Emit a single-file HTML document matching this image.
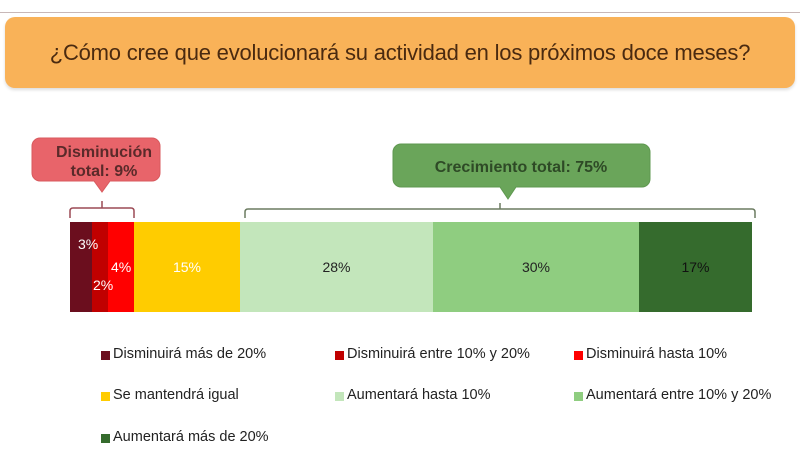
<!DOCTYPE html>
<html><head><meta charset="utf-8"><style>
body{margin:0;width:800px;height:453px;background:#fff;position:relative;overflow:hidden;font-family:"Liberation Sans",sans-serif}
.a{position:absolute}
.title{left:5px;top:17px;width:790px;height:71px;background:#f9b258;border-radius:10px;box-shadow:0 2px 3px #ddd;text-align:center;line-height:71px;font-size:22px;color:#4a2a10;letter-spacing:-0.2px}
.seg{position:absolute;top:222px;height:90px;font-size:14px;text-align:center;line-height:90px}
.lg{position:absolute;font-size:14.5px;color:#222;white-space:nowrap}
.lg i{position:absolute;left:0;top:5px;width:9px;height:9px}
.lg span{position:absolute;left:12px;top:0}
</style></head><body>
<div class="a" style="left:0;top:12px;width:800px;height:1px;background:#c8b8b8"></div>
<div class="a title">¿Cómo cree que evolucionará su actividad en los próximos doce meses?</div>

<svg class="a" style="left:0;top:0" width="800" height="453">
<path d="M40 138 H152 a8 8 0 0 1 8 8 V173 a8 8 0 0 1 -8 8 H110 L102 192 L94 181 H40 a8 8 0 0 1 -8 -8 V146 a8 8 0 0 1 8 -8Z" fill="#e8646a" stroke="#d85a5e"/>
<path d="M401 144 H642 a8 8 0 0 1 8 8 V179 a8 8 0 0 1 -8 8 H516 L508 199 L500 187 H401 a8 8 0 0 1 -8 -8 V152 a8 8 0 0 1 8 -8Z" fill="#6aa55a" stroke="#5f9850"/>
<path d="M70 218 V211 Q70 208 73 208 H131 Q134 208 134 211 V218 M102 208 V201" fill="none" stroke="#9c4a55" stroke-width="1.5"/>
<path d="M245 218 V212 Q245 209 248 209 H752 Q755 209 755 212 V218 M500 209 V203" fill="none" stroke="#6b7b60" stroke-width="1.5"/>
<text x="104" y="157" font-size="16" font-weight="bold" fill="#5a2a2a" text-anchor="middle" font-family="Liberation Sans">Disminución</text>
<text x="104" y="176" font-size="16" font-weight="bold" fill="#5a2a2a" text-anchor="middle" font-family="Liberation Sans">total: 9%</text>
<text x="521" y="172" font-size="16" font-weight="bold" fill="#2e4a26" text-anchor="middle" font-family="Liberation Sans">Crecimiento total: 75%</text>
</svg>

<div class="seg" style="left:70px;width:22px;background:#6b0e1e"></div>
<div class="seg" style="left:92px;width:16px;background:#c00000"></div>
<div class="seg" style="left:108px;width:26px;background:#ff0000"></div>
<div class="a" style="left:78px;top:236px;font-size:14px;color:#fff">3%</div>
<div class="a" style="left:93px;top:277px;font-size:14px;color:#fff">2%</div>
<div class="a" style="left:111px;top:259px;font-size:14px;color:#fff">4%</div>
<div class="seg" style="left:134px;width:106px;background:#ffcc00;color:#fff">15%</div>
<div class="seg" style="left:240px;width:193px;background:#c3e6bb;color:#222">28%</div>
<div class="seg" style="left:433px;width:206px;background:#8fcd80;color:#222">30%</div>
<div class="seg" style="left:639px;width:113px;background:#356b2d;color:#111">17%</div>

<div class="lg" style="left:101px;top:346px"><i style="background:#6b0e1e"></i><span>Disminuirá más de 20%</span></div>
<div class="lg" style="left:335px;top:346px"><i style="background:#c00000"></i><span>Disminuirá entre 10% y 20%</span></div>
<div class="lg" style="left:574px;top:346px"><i style="background:#ff0000"></i><span>Disminuirá hasta 10%</span></div>
<div class="lg" style="left:101px;top:387px"><i style="background:#ffcc00"></i><span>Se mantendrá igual</span></div>
<div class="lg" style="left:335px;top:387px"><i style="background:#c3e6bb"></i><span>Aumentará hasta 10%</span></div>
<div class="lg" style="left:574px;top:387px"><i style="background:#8fcd80"></i><span>Aumentará entre 10% y 20%</span></div>
<div class="lg" style="left:101px;top:429px"><i style="background:#356b2d"></i><span>Aumentará más de 20%</span></div>
</body></html>
